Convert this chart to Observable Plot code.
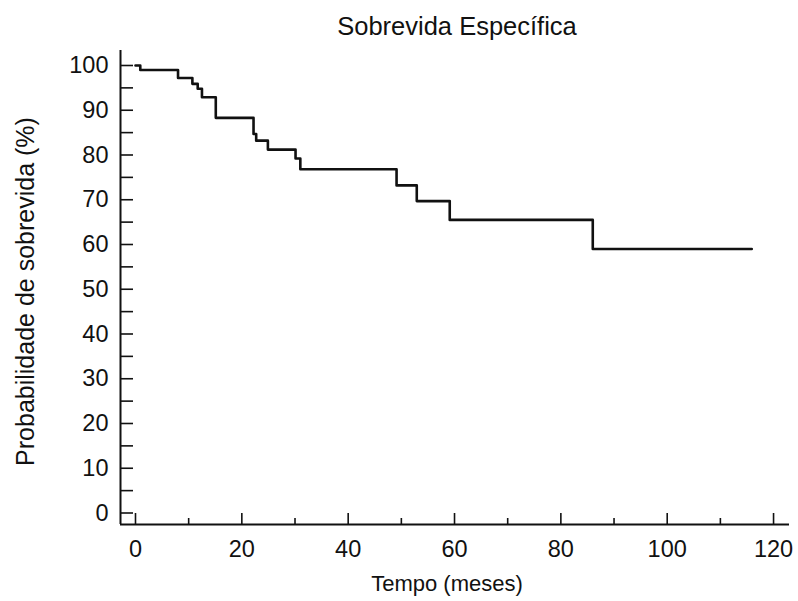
<!DOCTYPE html>
<html>
<head>
<meta charset="utf-8">
<script src="https://cdn.jsdelivr.net/npm/d3@7"></script>
<script src="https://cdn.jsdelivr.net/npm/@observablehq/plot@0.6"></script>
<style>
  html, body { margin: 0; padding: 0; background: #fff; }
  #title { box-sizing: border-box; width: 798px; height: 44px; padding-top: 14px; padding-left: 116px;
    text-align: center; font: 25.5px "Liberation Sans", Arial, sans-serif; line-height: 25px; color: #111; }
  svg { display: block; overflow: visible; }
</style>
</head>
<body>
<div id="title">Sobrevida Específica</div>
<div id="chart"></div>
<script>
const chartTitle = "Sobrevida Específica";
const xLabel = "Tempo (meses)";
const yLabel = "Probabilidade de sobrevida (%)";

// Kaplan–Meier steps
const months   = [0, 0.9, 8.0, 10.7, 11.7, 12.5, 15.1, 22.2, 22.7, 24.9, 30.1, 31.0, 49.1, 52.9, 59.1, 86.0, 115.9];
const survival = [100, 99.0, 97.2, 95.9, 94.8, 92.9, 88.3, 84.7, 83.2, 81.2, 79.2, 76.8, 73.2, 69.7, 65.5, 59.0, 59.0];

const xMajorTicks = [0, 20, 40, 60, 80, 100, 120];
const xMinorTicks = [10, 30, 50, 70, 90, 110];
const yMajorTicks = [0, 10, 20, 30, 40, 50, 60, 70, 80, 90, 100];
const yAllTicks   = [0, 5, 10, 15, 20, 25, 30, 35, 40, 45, 50, 55, 60, 65, 70, 75, 80, 85, 90, 95, 100];

const xDomain = [-2.82, 123];
const yDomain = [-2.57, 103.35];

const data = months.map((t, i) => ({t, s: survival[i]}));
const ink = "#111";
const tickFont = 23.5;

const plot = Plot.plot({
  width: 798,
  height: 557,
  marginLeft: 120,
  marginRight: 9,
  marginTop: 6,
  marginBottom: 77,
  style: {fontFamily: "'Liberation Sans', Arial, sans-serif", fontSize: tickFont + "px", color: ink, background: "#fff", overflow: "visible"},
  x: {domain: xDomain},
  y: {domain: yDomain},
  marks: [
    // axis lines
    Plot.ruleX([xDomain[0]], {stroke: ink, strokeWidth: 2}),
    Plot.ruleY([yDomain[0]], {stroke: ink, strokeWidth: 2}),
    // y ticks pointing inward
    Plot.axisY({ticks: yAllTicks, tickSize: 13, dx: 13, fill: "none", tickFormat: () => "", label: null, stroke: ink, strokeWidth: 1.6}),
    Plot.axisY({ticks: yMajorTicks, tickSize: 0, tickPadding: 12, label: null, fill: ink, fontSize: tickFont}),
    // x ticks pointing upward
    Plot.axisX({ticks: xMajorTicks, tickSize: 11, dy: -11, fill: "none", tickFormat: () => "", label: null, stroke: ink, strokeWidth: 1.6}),
    Plot.axisX({ticks: xMinorTicks, tickSize: 6, dy: -6, fill: "none", tickFormat: () => "", label: null, stroke: ink, strokeWidth: 1.6}),
    Plot.axisX({ticks: xMajorTicks, tickSize: 0, tickPadding: 16, label: null, fill: ink, fontSize: tickFont}),
    // axis titles
    Plot.text([xLabel], {text: d => d, frameAnchor: "bottom", dy: 59, dx: -8, lineAnchor: "middle", textAnchor: "middle", fontSize: 22, fill: ink}),
    Plot.text([yLabel], {text: d => d, frameAnchor: "left", dx: -95, dy: 4, rotate: -90, lineAnchor: "middle", textAnchor: "middle", fontSize: 25, fill: ink}),
    // survival curve
    Plot.line(data, {x: "t", y: "s", curve: "step-after", stroke: ink, strokeWidth: 2.6})
  ]
});
document.getElementById("chart").appendChild(plot);
</script>
</body>
</html>
